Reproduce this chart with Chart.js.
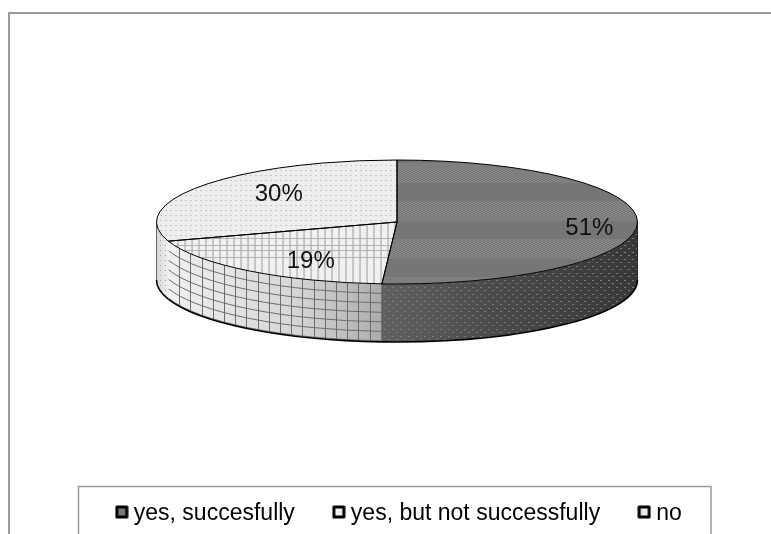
<!DOCTYPE html>
<html>
<head>
<meta charset="utf-8">
<style>html,body{margin:0;padding:0;background:#fff}canvas{display:block}</style>
<script src="https://cdn.jsdelivr.net/npm/chart.js@4"></script>
</head>
<body>
<canvas id="c" width="771" height="534"></canvas>
<script>
const categories = ["yes, succesfully", "yes, but not successfully", "no"];
const shares = [51, 19, 30];

const FONT = '"Liberation Sans", Arial, sans-serif';
const RADIUS = 240.5, FACE_CX = 397, FACE_CY = 222, FACE_RY = 62, DEPTH = 58;
const TILT = FACE_RY / RADIUS;
const labelPlace = [{fx: .8, fy: 2.6}, {fx: .585, fy: .776}, {fx: .608, fy: .795}];

function tile(w, h, paint) {
  const c = document.createElement('canvas');
  c.width = w; c.height = h;
  paint(c.getContext('2d'));
  return c;
}
const bandTile = tile(4, 38, g => {
  g.fillStyle = '#767676'; g.fillRect(0, 0, 4, 38);
  g.fillStyle = '#9c9c9c';
  for (let y = 0; y < 19; y += 2) { g.fillRect(0, y, 1, 1); g.fillRect(2, y + 1, 1, 1); }
});
const crossTile = tile(7, 64, g => {
  g.fillStyle = '#f0f0f0'; g.fillRect(0, 0, 7, 64);
  g.fillStyle = '#a0a0a0'; g.fillRect(0, 0, 1, 64);
  g.fillStyle = '#b4b4b4';
  [16, 23, 28, 35].forEach(y => g.fillRect(0, y, 7, 1));
});
const dotTile = tile(5, 5, g => {
  g.fillStyle = '#eeeeee'; g.fillRect(0, 0, 5, 5);
  g.fillStyle = '#a0a0a0'; g.fillRect(0, 0, 1, 1);
});
const wallDotTile = tile(8, 7, g => {
  g.fillStyle = '#7c7c7c'; g.fillRect(0, 0, 2, 1);
  g.fillRect(4, 3, 2, 1);
});
const wallLightDotTile = tile(5, 5, g => {
  g.fillStyle = '#a8a8a8'; g.fillRect(0, 0, 1, 1);
});

const ctx0 = document.getElementById('c').getContext('2d');
const facePatterns = [
  {p: ctx0.createPattern(bandTile, 'repeat'), y0: 163},
  {p: ctx0.createPattern(crossTile, 'repeat'), y0: 222},
  {p: ctx0.createPattern(dotTile, 'repeat'), y0: 160}
];
const swatchFills = ['#787878', '#f0f0f0', '#ececec'];
const swatches = swatchFills.map(f => tile(14, 18, g => {
  g.fillStyle = f; g.fillRect(1, 1, 12, 12);
  g.strokeStyle = '#000'; g.lineWidth = 3; g.lineJoin = 'round';
  g.strokeRect(2, 2, 10, 10);
}));

function facePath(ctx, arc) {
  ctx.beginPath();
  ctx.moveTo(FACE_CX, FACE_CY);
  ctx.ellipse(FACE_CX, FACE_CY, arc.outerRadius, FACE_RY, 0, arc.startAngle, arc.endAngle);
  ctx.closePath();
}

const pie3d = {
  id: 'pie3d',
  beforeDraw(chart) {
    const ctx = chart.ctx;
    ctx.save();
    ctx.strokeStyle = '#9a9a9a'; ctx.lineWidth = 2;
    ctx.beginPath(); ctx.moveTo(9, 534); ctx.lineTo(9, 13); ctx.lineTo(771, 13); ctx.stroke();
    ctx.lineWidth = 1.5;
    ctx.beginPath(); ctx.moveTo(78.5, 534); ctx.lineTo(78.5, 486.5); ctx.lineTo(711, 486.5); ctx.lineTo(711, 534); ctx.stroke();
    ctx.restore();
  },
  beforeDatasetsDraw(chart) {
    const ctx = chart.ctx;
    const arcs = chart.getDatasetMeta(0).data;
    const rx = arcs[0].outerRadius, cx = FACE_CX;
    const ramps = [
      [[0, '#606060'], [.45, '#4a4a4a'], [1, '#383838']],
      [[0, '#f0f0f0'], [.6, '#d6d6d6'], [1, '#acacac']],
      [[0, '#d6d6d6'], [1, '#efefef']]
    ];
    arcs.forEach((arc, i) => {
      const a0 = Math.max(arc.startAngle, 0), a1 = Math.min(arc.endAngle, Math.PI);
      if (a1 <= a0) return;
      const wall = new Path2D();
      wall.ellipse(cx, FACE_CY, rx, FACE_RY, 0, a0, a1);
      wall.ellipse(cx, FACE_CY + DEPTH, rx, FACE_RY, 0, a1, a0, true);
      wall.closePath();
      const xs = [Math.cos(a0) * rx + cx, Math.cos(a1) * rx + cx];
      const grad = ctx.createLinearGradient(Math.min(...xs), 0, Math.max(...xs), 0);
      ramps[i].forEach(s => grad.addColorStop(s[0], s[1]));
      ctx.save();
      ctx.fillStyle = grad;
      ctx.fill(wall);
      ctx.clip(wall);
      if (i === 0) {
        ctx.fillStyle = ctx.createPattern(wallDotTile, 'repeat'); ctx.fill(wall);
      } else if (i === 2) {
        ctx.fillStyle = ctx.createPattern(wallLightDotTile, 'repeat'); ctx.fill(wall);
      } else {
        ctx.strokeStyle = '#6c6c6c'; ctx.lineWidth = 1;
        for (let d = 9.5; d < DEPTH; d += 9.5) {
          ctx.beginPath(); ctx.ellipse(cx, FACE_CY + d, rx, FACE_RY, 0, a0, a1); ctx.stroke();
        }
        for (let x = Math.min(...xs) + 11; x < Math.max(...xs); x += 11.2) {
          ctx.beginPath(); ctx.moveTo(Math.round(x) + .5, 200); ctx.lineTo(Math.round(x) + .5, 360); ctx.stroke();
        }
      }
      ctx.restore();
      ctx.strokeStyle = '#000'; ctx.lineWidth = 1.6;
      ctx.beginPath(); ctx.ellipse(cx, FACE_CY + DEPTH, rx, FACE_RY, 0, a0, a1); ctx.stroke();
    });
    ctx.strokeStyle = '#6a6a6a'; ctx.lineWidth = 1;
    ctx.beginPath(); ctx.moveTo(cx - rx, FACE_CY); ctx.lineTo(cx - rx, FACE_CY + DEPTH); ctx.stroke();
    ctx.strokeStyle = '#222';
    ctx.beginPath(); ctx.moveTo(cx + rx, FACE_CY); ctx.lineTo(cx + rx, FACE_CY + DEPTH); ctx.stroke();
  },
  beforeDatasetDraw(chart) {
    const ctx = chart.ctx;
    const arc = chart.getDatasetMeta(0).data[0];
    const shift = FACE_CY - arc.y * TILT;
    facePatterns.forEach(f => {
      f.p.setTransform(new DOMMatrix([1, 0, 0, 1 / TILT, 0, (f.y0 - shift) / TILT]));
    });
    ctx.save();
    ctx.translate(FACE_CX - arc.x, shift);
    ctx.scale(1, TILT);
  },
  afterDatasetDraw(chart) {
    chart.ctx.restore();
  },
  afterDatasetsDraw(chart) {
    const ctx = chart.ctx;
    const arcs = chart.getDatasetMeta(0).data;
    ctx.save();
    ctx.strokeStyle = '#000'; ctx.lineWidth = 1;
    arcs.forEach(arc => { facePath(ctx, arc); ctx.stroke(); });
    ctx.fillStyle = '#111';
    ctx.font = '24px ' + FONT;
    ctx.textAlign = 'center'; ctx.textBaseline = 'middle';
    arcs.forEach((arc, i) => {
      const mid = (arc.startAngle + arc.endAngle) / 2;
      const x = FACE_CX + Math.cos(mid) * arc.outerRadius * labelPlace[i].fx;
      const y = FACE_CY + Math.sin(mid) * FACE_RY * labelPlace[i].fy + 1.5;
      ctx.fillText(shares[i] + '%', x, y);
    });
    ctx.restore();
  }
};

new Chart(ctx0, {
  type: 'pie',
  data: {
    labels: categories,
    datasets: [{
      data: shares,
      backgroundColor: facePatterns.map(f => f.p),
      borderWidth: 0,
      radius: RADIUS,
      clip: false
    }]
  },
  options: {
    responsive: false,
    devicePixelRatio: 1,
    animation: false,
    layout: {padding: {left: 32}},
    plugins: {
      tooltip: {enabled: false},
      legend: {
        position: 'bottom',
        maxHeight: 75,
        labels: {
          usePointStyle: true,
          boxWidth: 1,
          padding: 43.5,
          color: '#000',
          font: {family: FONT, size: 23},
          generateLabels: () => categories.map((text, i) => ({
            text, pointStyle: swatches[i], hidden: false, index: i,
            fillStyle: swatchFills[i], strokeStyle: '#000', lineWidth: 0, fontColor: '#000'
          }))
        }
      }
    }
  },
  plugins: [pie3d]
});
</script>
</body>
</html>
